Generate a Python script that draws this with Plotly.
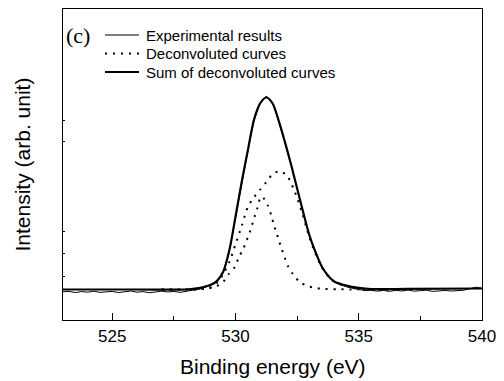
import plotly.graph_objects as go

# ---- data (arbitrary intensity units) ----
exp_energy = [523.0 + 0.25 * i for i in range(69)]
exp_intensity = [
    -0.012, -0.010, -0.016, -0.011, -0.014, -0.009, -0.015, -0.012,   # 523.00-524.75
    -0.010, -0.016, -0.013, -0.008, -0.014, -0.011, -0.017, -0.012,   # 525.00-526.75
    -0.009, -0.013, -0.010, -0.015, -0.008, -0.004, 0.000, 0.010,     # 527.00-528.75
    0.022, 0.040, 0.088, 0.198, 0.375, 0.556, 0.722, 0.880,           # 529.00-530.75
    0.968, 1.008, 0.972, 0.878, 0.770, 0.652, 0.524, 0.398,           # 531.00-532.75
    0.280, 0.190, 0.118, 0.070, 0.038, 0.024, 0.014, 0.006,           # 533.00-534.75
    0.000, -0.006, -0.004, -0.009, -0.005, -0.010, -0.004, -0.008,    # 535.00-536.75
    -0.003, -0.009, -0.006, -0.004, -0.010, -0.007, -0.005, -0.008,   # 537.00-538.75
    -0.006, -0.004, 0.004, 0.012, 0.006,                              # 539.00-540.00
]

sum_energy = [523.0, 526.0, 528.0, 528.5, 529.0, 529.25, 529.5, 529.75, 530.0,
              530.25, 530.5, 530.75, 531.0, 531.25, 531.5, 531.75, 532.0,
              532.25, 532.5, 532.75, 533.0, 533.25, 533.5, 533.75, 534.0,
              534.5, 535.0, 535.5, 537.0, 540.0]
sum_intensity = [0.0, 0.0, 0.0, 0.007, 0.024, 0.045, 0.092, 0.205, 0.38,
                 0.56, 0.725, 0.885, 0.97, 1.0, 0.97, 0.88, 0.77,
                 0.652, 0.526, 0.40, 0.281, 0.193, 0.12, 0.073, 0.042,
                 0.02, 0.008, 0.002, 0.003, 0.005]

c1_energy = [527.0, 528.3, 528.8, 529.2, 529.5, 529.71, 529.99, 530.12, 530.30,
             530.44, 530.57, 530.78, 530.89, 530.98, 531.06, 531.18, 531.32,
             531.46, 531.55, 531.66, 531.77, 531.87, 532.0, 532.13, 532.34,
             532.61, 532.95, 533.22, 533.6, 535.0]
c1_intensity = [0.0, 0.0, 0.004, 0.015, 0.04, 0.078, 0.121, 0.165, 0.208,
                0.252, 0.295, 0.382, 0.426, 0.469, 0.484, 0.469, 0.434,
                0.382, 0.339, 0.295, 0.252, 0.212, 0.165, 0.121, 0.078,
                0.038, 0.017, 0.009, 0.003, 0.0]

c2_energy = [527.0, 528.5, 529.0, 529.27, 529.5, 529.76, 530.0, 530.25, 530.5,
             530.75, 531.0, 531.25, 531.5, 531.8, 532.1, 532.4, 532.7,
             533.0, 533.25, 533.5, 533.75, 534.0, 534.5, 535.0, 535.5, 537.0]
c2_intensity = [0.0, 0.002, 0.012, 0.036, 0.08, 0.147, 0.236, 0.33, 0.43,
                0.48, 0.52, 0.56, 0.60, 0.616, 0.59, 0.51, 0.40,
                0.27, 0.184, 0.115, 0.07, 0.042, 0.018, 0.006, 0.0, 0.0]

x_ticks = [525, 530, 535, 540]
x_minor = [527.5, 532.5, 537.5]
y_ticks = [0.07, 0.19, 0.30, 0.77, 0.88]

legend_names = ["Experimental results", "Deconvoluted curves",
                "Sum of deconvoluted curves"]

DOT = "2px,6px"

fig = go.Figure()
fig.add_trace(go.Scatter(x=c1_energy, y=c1_intensity, mode="lines",
                         line=dict(color="black", width=2, dash=DOT,
                                   shape="spline", smoothing=0.8),
                         name=legend_names[1], showlegend=False))
fig.add_trace(go.Scatter(x=c2_energy, y=c2_intensity, mode="lines",
                         line=dict(color="black", width=2, dash=DOT,
                                   shape="spline", smoothing=0.8),
                         name=legend_names[1], showlegend=False))
fig.add_trace(go.Scatter(x=exp_energy, y=exp_intensity, mode="lines",
                         line=dict(color="black", width=1),
                         name=legend_names[0], showlegend=False))
fig.add_trace(go.Scatter(x=sum_energy, y=sum_intensity, mode="lines",
                         line=dict(color="black", width=2.2,
                                   shape="spline", smoothing=0.8),
                         name=legend_names[2], showlegend=False))

# ---- hand-made legend (layout only) ----
PL, PW, PB, PH = 63, 419, 320, 311          # plot area in pixels
def px_x(p):
    return (p - PL) / PW
def px_y(p):
    return (PB - p) / PH

legend_rows = [35, 53.5, 72]
legend_styles = [dict(width=1, dash="solid"), dict(width=2, dash=DOT),
                 dict(width=2.2, dash="solid")]
shapes = []
annotations = []
for name, row, sty in zip(legend_names, legend_rows, legend_styles):
    shapes.append(dict(type="line", xref="paper", yref="paper",
                       x0=px_x(105), x1=px_x(139), y0=px_y(row), y1=px_y(row),
                       line=dict(color="black", width=sty["width"],
                                 dash=sty["dash"])))
    annotations.append(dict(text=name, xref="paper", yref="paper",
                            x=px_x(144), y=px_y(row), xanchor="left",
                            yanchor="middle", showarrow=False,
                            font=dict(size=15, color="black")))

annotations += [
    dict(text="(c)", xref="paper", yref="paper", x=px_x(78), y=px_y(35),
         xanchor="center", yanchor="middle", showarrow=False,
         font=dict(family="Liberation Serif, Times New Roman, serif",
                   size=22, color="black")),
    dict(text="Binding energy (eV)", xref="paper", yref="paper",
         x=0.5, y=px_y(366), xanchor="center", yanchor="middle",
         showarrow=False, font=dict(size=21, color="black")),
    dict(text="Intensity (arb. unit)", xref="paper", yref="paper",
         x=px_x(22), y=0.5, xanchor="center", yanchor="middle",
         textangle=-90, showarrow=False,
         font=dict(size=21, color="black")),
]

fig.update_layout(
    width=504, height=381,
    margin=dict(l=63, r=22, t=9, b=61),
    paper_bgcolor="white", plot_bgcolor="white",
    font=dict(family="Liberation Sans, Arial, sans-serif", color="black"),
    showlegend=False,
    shapes=shapes,
    annotations=annotations,
)

fig.update_xaxes(range=[523, 540], tickvals=x_ticks,
                 ticks="inside", ticklen=7, tickwidth=1, tickcolor="black",
                 minor=dict(tickvals=x_minor, ticks="inside", ticklen=4,
                            tickwidth=1, tickcolor="black"),
                 showline=True, linecolor="black", linewidth=1.2, mirror=True,
                 showgrid=False, zeroline=False,
                 tickfont=dict(size=17, color="black"))
fig.update_yaxes(range=[-0.159, 1.461], tickvals=y_ticks,
                 showticklabels=False,
                 ticks="inside", ticklen=2, tickwidth=1, tickcolor="black",
                 showline=True, linecolor="black", linewidth=1.2, mirror=True,
                 showgrid=False, zeroline=False)

fig.write_html("out.html")
